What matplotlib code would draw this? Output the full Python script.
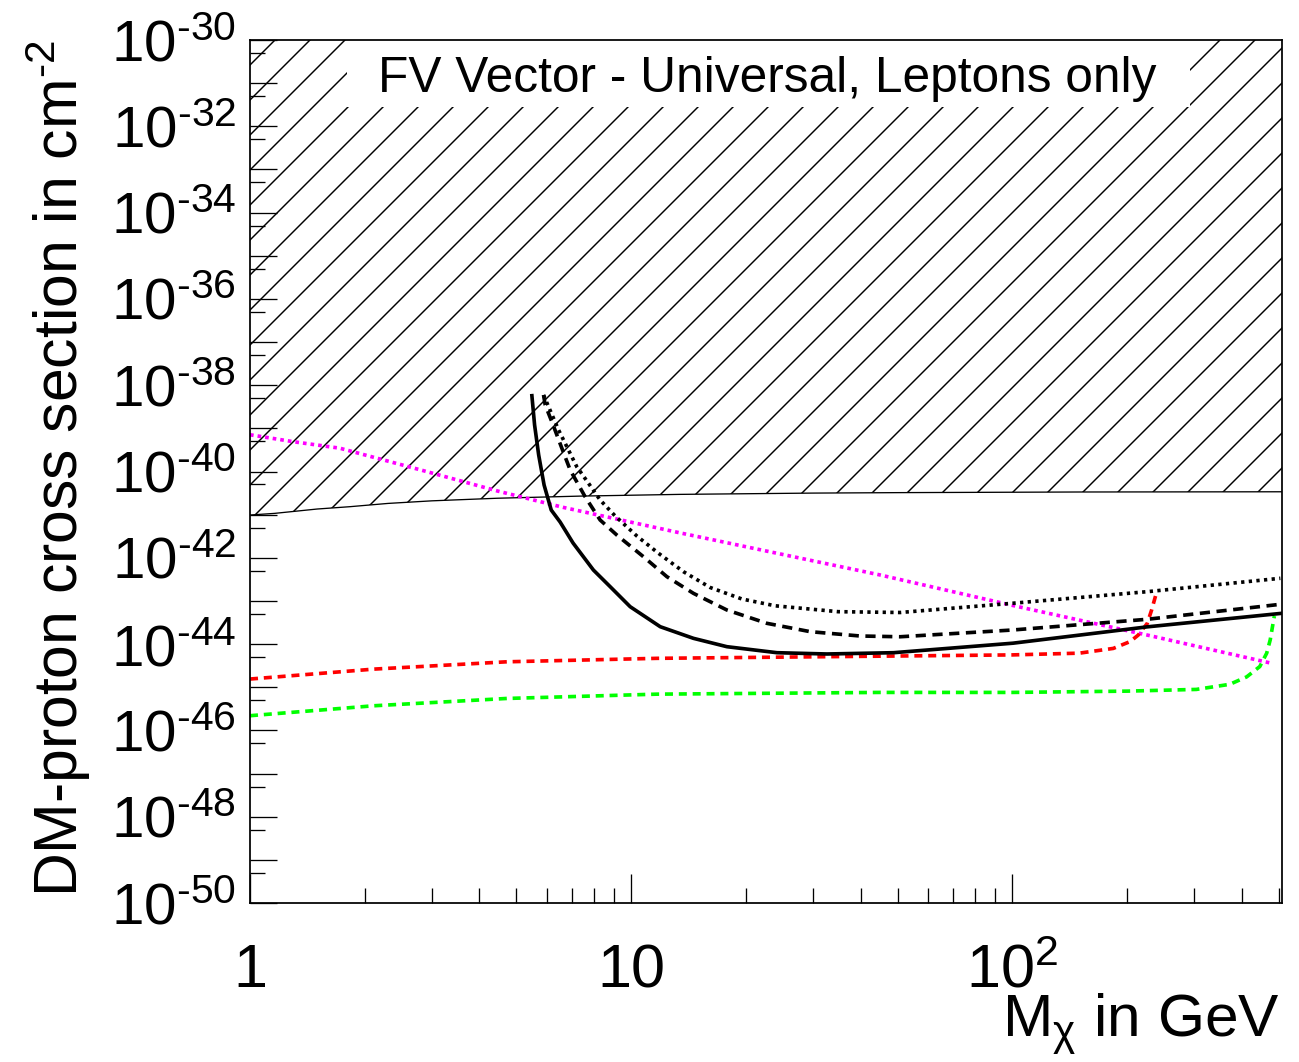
import matplotlib
matplotlib.use('Agg')
import matplotlib.pyplot as plt
from matplotlib.ticker import FixedLocator, FuncFormatter, NullFormatter
from matplotlib.patches import Rectangle
import numpy as np

plt.rcParams['font.family'] = ['Liberation Sans', 'DejaVu Sans']
plt.rcParams['mathtext.default'] = 'regular'
plt.rcParams['hatch.linewidth'] = 0.5
plt.rcParams['hatch.color'] = 'black'

# ---------------- data ----------------
title_text = "FV Vector - Universal, Leptons only"

# excluded region lower boundary (hatched above)
excl_x = [1.0, 1.16, 1.5, 1.83, 2.3, 3.0, 4.45, 7.35, 13.4, 30.0, 51.0, 150.0, 510.0]
excl_y = [9.8e-42, 1.07e-41, 1.35e-41, 1.53e-41, 1.82e-41, 2.09e-41, 2.40e-41,
          2.69e-41, 2.95e-41, 3.16e-41, 3.24e-41, 3.35e-41, 3.39e-41]

# black solid
solid_x = [5.49, 5.58, 5.72, 5.91, 6.17, 6.51, 7.04, 7.96, 8.81, 9.94, 11.92, 14.57,
           17.83, 24.13, 32.63, 48.8, 100.4, 226.0, 505.0]
solid_y = [5.71e-39, 1.20e-39, 2.41e-40, 4.86e-41, 1.28e-41, 6.76e-42, 2.20e-42, 5.21e-43,
           2.14e-43, 7.36e-44, 2.53e-44, 1.36e-44, 8.71e-45, 6.32e-45, 5.90e-45, 6.32e-45,
           1.05e-44, 2.51e-44, 5.13e-44]

# black dashed
dash_x = [5.89, 5.95, 6.24, 6.58, 6.92, 7.57, 8.29, 9.17, 10.77, 12.41, 14.57, 17.83,
          22.71, 29.5, 39.9, 50.8, 100.0, 226.0, 505.0]
dash_y = [5.93e-39, 3.48e-39, 1.20e-39, 3.45e-40, 1.08e-40, 2.61e-41, 7.52e-42, 3.37e-42,
          1.06e-42, 3.65e-43, 1.50e-43, 6.17e-44, 3.03e-44, 1.94e-44, 1.54e-44, 1.48e-44,
          2.12e-44, 3.76e-44, 8.36e-44]

# black dotted
dot_x = [5.89, 6.45, 7.20, 7.73, 8.29, 9.08, 10.35, 11.80, 13.72, 16.12, 19.52, 23.87,
         34.9, 50.8, 100.0, 226.0, 505.0]
dot_y = [5.93e-39, 9.16e-40, 1.29e-40, 5.32e-41, 2.19e-41, 9.31e-42, 3.20e-42, 1.27e-42,
         4.76e-43, 2.05e-43, 1.11e-43, 7.72e-44, 5.64e-44, 5.40e-44, 8.83e-44, 1.64e-43,
         3.35e-43]

# red dashed
red_x = [1.0, 2.11, 4.72, 11.7, 45.0, 100.0, 150.0, 184.0, 204.0, 214.0, 226.0, 232.0, 238.0]
red_y = [1.55e-45, 2.63e-45, 3.89e-45, 4.68e-45, 5.25e-45, 5.62e-45, 6.17e-45, 7.94e-45,
         1.15e-44, 1.62e-44, 3.02e-44, 6.17e-44, 1.38e-43]

# green dashed
green_x = [1.0, 2.11, 4.72, 11.7, 45.0, 100.0, 200.0, 304.0, 372.0, 412.0, 446.0, 465.0,
           475.0, 484.0, 487.0]
green_y = [2.19e-46, 3.72e-46, 5.50e-46, 6.92e-46, 7.59e-46, 7.59e-46, 8.13e-46, 8.91e-46,
           1.17e-45, 1.74e-45, 3.02e-45, 6.17e-45, 1.26e-44, 3.31e-44, 4.47e-44]

# magenta dotted
mag_x = [1.0, 1.3, 1.72, 2.79, 4.45, 6.62, 13.4, 45.0, 100.0, 226.0, 482.0]
mag_y = [7.1e-40, 4.9e-40, 3.47e-40, 1.1e-40, 3.55e-41, 1.48e-41, 3.8e-42, 4.0e-43,
         7.9e-44, 1.62e-44, 3.55e-45]

x_major = [1, 10, 100]
x_major_labels = ['1', '10', '$10^{2}$']
x_minor = [2, 3, 4, 5, 6, 7, 8, 9, 20, 30, 40, 50, 60, 70, 80, 90, 200, 300, 400, 500]
y_exponents = list(range(-50, -29))

# ---------------- figure ----------------
DPI = 210
fig = plt.figure(figsize=(1299 / DPI, 1062 / DPI), dpi=DPI)
ax = fig.add_axes([250 / 1299, 159 / 1062, 1032 / 1299, 863 / 1062])
ax.set_xscale('log')
ax.set_yscale('log')
ax.set_xlim(1, 510)
ax.set_ylim(1e-50, 1e-30)

ax.fill_between(excl_x, excl_y, 1e-30, facecolor='none', edgecolor='black',
                hatch='//', linewidth=0, zorder=1)
ax.plot(excl_x, excl_y, color='black', lw=0.45, zorder=2)

lw = 1.25
ax.plot(mag_x, mag_y, color=(1, 0, 1), lw=lw, dashes=(1.0, 1.1), zorder=3)
ax.plot(red_x, red_y, color=(1, 0, 0), lw=lw, dashes=(2.2, 1.6), zorder=3)
ax.plot(green_x, green_y, color=(0, 1, 0), lw=lw, dashes=(2.2, 1.6), zorder=3)
ax.plot(dot_x, dot_y, color='black', lw=lw, dashes=(0.9, 1.2), zorder=3)
ax.plot(dash_x, dash_y, color='black', lw=lw, dashes=(2.8, 1.8), zorder=3)
ax.plot(solid_x, solid_y, color='black', lw=lw, zorder=3)

# title box
ax.add_patch(Rectangle((97 / 1032, (903 - 107) / 863), 843 / 1032, 67 / 863,
                       transform=ax.transAxes, facecolor='white', edgecolor='none', zorder=4))
ax.text(0.501, (903 - 91.7) / 863, title_text, transform=ax.transAxes,
        ha='center', va='baseline', fontsize=17.0, zorder=5)

for sp in ax.spines.values():
    sp.set_linewidth(0.6)
    sp.set_zorder(6)

# ticks
ax.xaxis.set_major_locator(FixedLocator(x_major))
ax.xaxis.set_major_formatter(FuncFormatter(
    lambda v, p: x_major_labels[p] if p is not None and p < len(x_major_labels) else ''))
ax.xaxis.set_minor_locator(FixedLocator(x_minor))
ax.xaxis.set_minor_formatter(NullFormatter())

ax.yaxis.set_major_locator(FixedLocator([10.0 ** e for e in y_exponents]))
def yfmt(v, pos):
    e = int(round(np.log10(v)))
    return '$10^{\u2010%d}$' % abs(e) if e % 2 == 0 else ''
ax.yaxis.set_major_formatter(FuncFormatter(yfmt))
ax.yaxis.set_minor_locator(FixedLocator([5 * 10.0 ** e for e in y_exponents[:-1]]))
ax.yaxis.set_minor_formatter(NullFormatter())

ax.tick_params(axis='both', which='both', direction='in', top=False, right=False,
               color='black', width=0.45)
ax.tick_params(axis='x', which='major', length=10, pad=28.8, labelsize=21)
ax.tick_params(axis='x', which='minor', length=5.1)
ax.tick_params(axis='y', which='major', length=9.3, pad=4.8, labelsize=20)
ax.tick_params(axis='y', which='minor', length=5.1)
for lbl in ax.get_xticklabels():
    lbl.set_va('baseline')

# axis labels
ax.set_ylabel('DM-proton cross section in cm$^{\u20102}$', fontsize=20.8, loc='top')
ax.yaxis.label.set_rotation_mode('anchor')
ax.yaxis.label.set_va('baseline')
ax.yaxis.set_label_coords((78 - 250) / 1032, 1.0)

ax.set_xlabel(r'M$_{\chi}$ in GeV', fontsize=20.7, loc='right')
ax.xaxis.label.set_va('baseline')
ax.xaxis.set_label_coords((1280 - 250) / 1032, -(1037 - 903) / 863)

fig.savefig('out.png', dpi=DPI)
